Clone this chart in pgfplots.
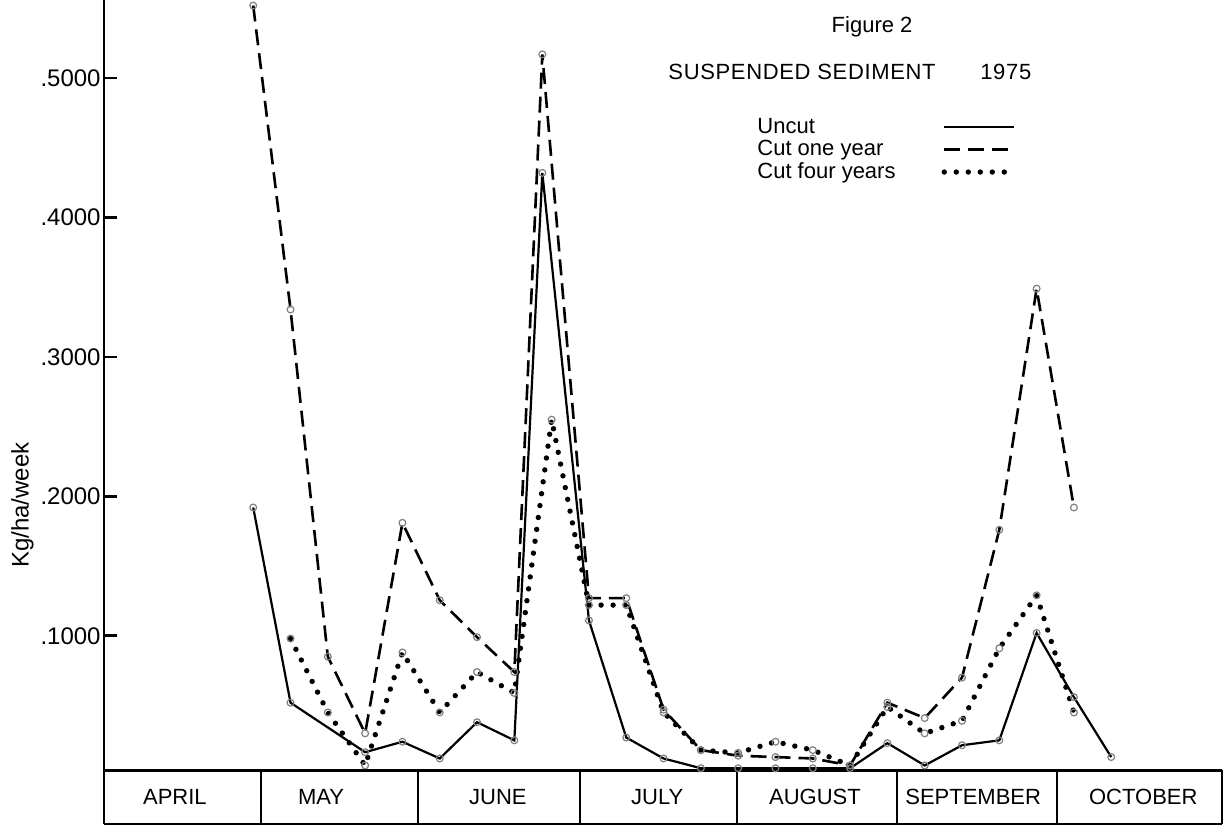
\documentclass[border=0pt]{standalone}
\usepackage{pgfplots}
\pgfplotsset{compat=1.18}
\usepackage{fontspec}
\setmainfont{Liberation Sans}
\begin{document}
\begin{tikzpicture}
\useasboundingbox (0,0) rectangle (612.5pt,418pt);
\begin{axis}[
  at={(52pt,6pt)}, anchor=south west,
  scale only axis, width=559pt, height=412pt,
  xmin=0, xmax=29.97, ymin=-0.035, ymax=0.556,
  axis y line*=left, axis x line*=bottom,
  axis line style={line width=1.4pt},
  xtick=\empty,
  ytick={0.1,0.2,0.3,0.4,0.5},
  yticklabels={.1000,.2000,.3000,.4000,.5000},
  tick align=inside, major tick length=6pt,
  yticklabel style={font=\fontsize{12}{13}\selectfont, inner sep=1.5pt},
  ylabel={Kg/ha/week},
  ylabel style={at={(axis description cs:-0.073,0.387)}, anchor=center, font=\fontsize{12}{13}\selectfont},
  clip=false,
  legend style={at={(axis description cs:0.5805,0.862)}, anchor=north west, draw=none, fill=none,
    font=\fontsize{11}{11}\selectfont, row sep=-2pt, column sep=21pt, inner sep=0pt},
  legend cell align=left,
  legend plot pos=right,
  legend image code/.code={\draw[#1] (0pt,0pt) -- (35pt,0pt);},
]
\addplot[black, line width=1.1pt, mark=o, mark size=1.7pt, mark options={solid, gray, line width=0.6pt}]
coordinates {
(4,0.192) (5,0.052) (7,0.0165) (8,0.024) (9,0.012) (10,0.038) (11,0.025)
(11.75,0.432) (13,0.111) (14,0.027) (15,0.012) (16,0.005) (17,0.005) (18,0.005)
(19,0.005) (20,0.005) (21,0.023) (22,0.007) (23,0.0215) (24,0.025) (25,0.102)
(26,0.056) (27,0.013)
};
\addlegendentry{Uncut}
\addplot[black, line width=1.3pt, dash pattern=on 8pt off 4pt, mark=o, mark size=1.7pt, mark options={solid, gray, line width=0.6pt}]
coordinates {
(4,0.552) (5,0.334) (6,0.085) (7,0.030) (8,0.181) (9,0.1255) (10,0.099) (11,0.074)
(11.75,0.517) (13,0.127) (14,0.127) (15,0.047) (16,0.018) (17,0.014) (18,0.013)
(19,0.012) (20,0.007) (21,0.052) (22,0.041) (23,0.070) (24,0.176) (25,0.349) (26,0.192)
};
\addlegendentry{Cut one year}
\addplot[black, line width=2.7pt, line cap=round, dash pattern=on 0pt off 6pt, mark=o, mark size=1.7pt, mark options={solid, gray, line width=0.6pt}]
coordinates {
(5,0.098) (6,0.045) (7,0.007) (8,0.088) (9,0.045) (10,0.074) (11,0.059)
(12,0.255) (13,0.122) (14,0.122) (15,0.045) (16,0.018) (17,0.016) (18,0.024)
(19,0.018) (20,0.007) (21,0.049) (22,0.030) (23,0.039) (24,0.091) (25,0.129) (26,0.045)
};
\addlegendentry{Cut four years}
% y tick marks (inside)
\draw[line width=1.4pt] (axis cs:0,0.1) -- (axis cs:0.36,0.1);
\draw[line width=1.4pt] (axis cs:0,0.2) -- (axis cs:0.36,0.2);
\draw[line width=1.4pt] (axis cs:0,0.3) -- (axis cs:0.36,0.3);
\draw[line width=1.4pt] (axis cs:0,0.4) -- (axis cs:0.36,0.4);
\draw[line width=1.4pt] (axis cs:0,0.5) -- (axis cs:0.36,0.5);
% month box
\draw[line width=1.2pt] (axis cs:0,0.0035) -- (axis cs:29.97,0.0035);
\draw[line width=1.2pt] (axis cs:29.97,-0.035) -- (axis cs:29.97,0.0035);
\draw[line width=1.2pt] (axis cs:4.21,-0.035) -- (axis cs:4.21,0.0035);
\draw[line width=1.2pt] (axis cs:8.42,-0.035) -- (axis cs:8.42,0.0035);
\draw[line width=1.2pt] (axis cs:12.76,-0.035) -- (axis cs:12.76,0.0035);
\draw[line width=1.2pt] (axis cs:16.97,-0.035) -- (axis cs:16.97,0.0035);
\draw[line width=1.2pt] (axis cs:21.26,-0.035) -- (axis cs:21.26,0.0035);
\draw[line width=1.2pt] (axis cs:25.55,-0.035) -- (axis cs:25.55,0.0035);
\begin{scope}[font=\fontsize{11}{12}\selectfont]
\node at (axis cs:1.90,-0.0158) {APRIL};
\node at (axis cs:5.82,-0.0158) {MAY};
\node at (axis cs:10.56,-0.0158) {JUNE};
\node at (axis cs:14.83,-0.0158) {JULY};
\node at (axis cs:19.06,-0.0158) {AUGUST};
\node at (axis cs:23.30,-0.0158) {SEPTEMBER};
\node at (axis cs:27.86,-0.0158) {OCTOBER};
\node at (rel axis cs:0.687,0.967) {Figure 2};
\node[anchor=west, inner sep=0pt] at (rel axis cs:0.5045,0.9126) {\addfontfeature{LetterSpace=3}SUSPENDED SEDIMENT};
\node[anchor=west, inner sep=0pt] at (rel axis cs:0.7835,0.9126) {\addfontfeature{LetterSpace=3}1975};
\end{scope}
\end{axis}
\end{tikzpicture}
\end{document}
